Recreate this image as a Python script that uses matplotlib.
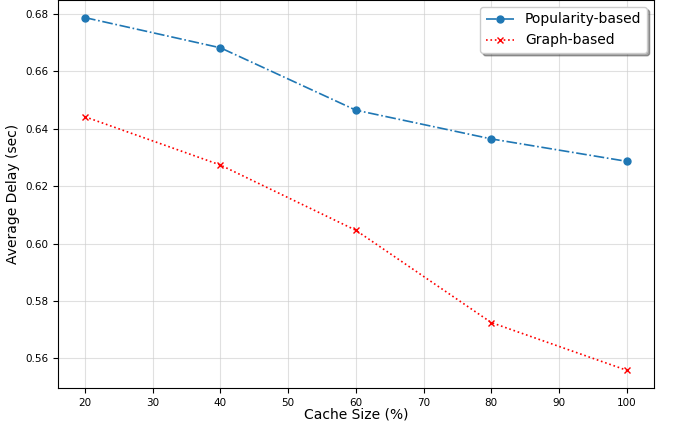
import matplotlib
matplotlib.use('Agg')
import matplotlib.pyplot as plt

cache_sizes = [20, 40, 60, 80, 100]
popularity_delay = [0.6786, 0.6681, 0.6464, 0.6364, 0.6286]
graph_delay = [0.6441, 0.6273, 0.6046, 0.5725, 0.5559]

fig = plt.figure(figsize=(6.74, 4.23), dpi=100)
ax = fig.add_axes([0.086, 0.083, 0.884, 0.917])

ax.plot(cache_sizes, popularity_delay, marker='o', linestyle='-.', color='#1f77b4',
        markersize=5, linewidth=1.2, label='Popularity-based')
ax.plot(cache_sizes, graph_delay, marker='x', linestyle=':', color='red',
        markersize=5, linewidth=1.2, label='Graph-based')

ax.set_xlabel('Cache Size (%)', fontsize=10, labelpad=0)
ax.set_ylabel('Average Delay (sec)', fontsize=10)
ax.yaxis.set_label_coords(-0.064, 0.5)
ax.tick_params(labelsize=7.5)
ax.set_xticks(range(20, 101, 10))
ax.grid(True, linestyle='-', color='#cccccc', alpha=0.6)
ax.legend(loc='upper right', shadow=True, fontsize=10)

fig.savefig('out.png', dpi=100)
